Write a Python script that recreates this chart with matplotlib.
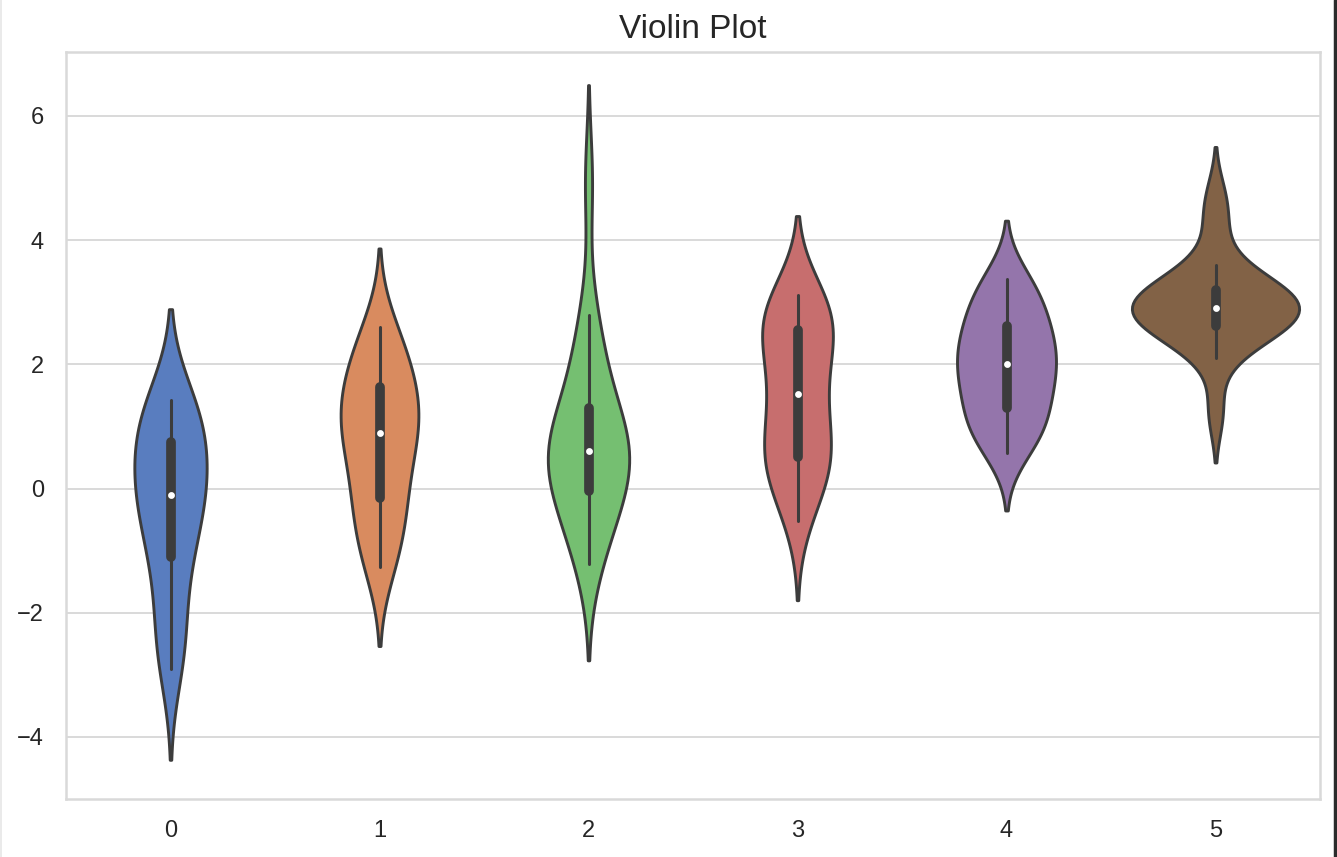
import matplotlib
matplotlib.use("Agg")
import matplotlib.pyplot as plt
from matplotlib.lines import Line2D
import seaborn as sns
import pandas as pd

group0 = [-2.9, -2.6, -2.3, -1.8, -1.2, -1.08, -0.75, -0.45, -0.25, -0.15,
          -0.05, 0.15, 0.35, 0.55, 0.7, 0.9, 1.1, 1.25, 1.38, 1.42]
group1 = [-1.27, -1.1, -0.75, -0.45, -0.25, -0.12, 0.2, 0.5, 0.7, 0.85,
          0.95, 1.1, 1.25, 1.4, 1.6, 1.72, 1.9, 2.15, 2.4, 2.6]
group2 = [-1.22, -0.9, -0.55, -0.3, -0.18, 0.0, 0.25, 0.42, 0.5, 0.56,
          0.64, 0.7, 0.8, 0.95, 1.2, 1.6, 1.9, 2.3, 2.79, 4.95]
group3 = [-0.53, -0.1, 0.15, 0.35, 0.45, 0.52, 0.7, 0.9, 1.2, 1.45,
          1.6, 1.9, 2.2, 2.35, 2.5, 2.7, 2.8, 2.9, 3.0, 3.12]
group4 = [0.58, 0.78, 0.92, 1.05, 1.2, 1.33, 1.55, 1.7, 1.82, 1.95,
          2.05, 2.15, 2.3, 2.45, 2.58, 2.72, 2.9, 3.1, 3.28, 3.38]
group5 = [1.22, 2.11, 2.4, 2.52, 2.58, 2.62, 2.72, 2.8, 2.86, 2.9,
          2.93, 3.0, 3.06, 3.12, 3.18, 3.28, 3.4, 3.6, 4.25, 4.7]

categories = ["0", "1", "2", "3", "4", "5"]
groups = [group0, group1, group2, group3, group4, group5]
title = "Violin Plot"

sns.set_theme(style="whitegrid")
plt.rcParams["font.family"] = ["Liberation Sans", "DejaVu Sans"]

df = pd.DataFrame({c: g for c, g in zip(categories, groups)})
long = df.melt(var_name="cat", value_name="val")

fig = plt.figure(figsize=(13.37, 8.57), dpi=100)
ax = fig.add_axes([66 / 1337, 1 - 799 / 857, (1320 - 66) / 1337, (799 - 52) / 857])

sns.violinplot(data=long, x="cat", y="val", hue="cat", palette="muted",
               legend=False, linewidth=2.1, common_norm=True,
               inner_kws=dict(box_width=7, whis_width=2.2, marker="o",
                              markersize=3.5),
               ax=ax)

ax.set_xlim(-0.5, 5.5)
ax.set_ylim(-5.0, 7.03)
ax.set_yticks([-4, -2, 0, 2, 4, 6])
ax.set_yticklabels(["\u22124", "\u22122", "0", "2", "4", "6"])
ax.set_xlabel("")
ax.set_ylabel("")
ax.set_title(title, fontsize=24, color="#262626", pad=10)
ax.tick_params(axis="x", labelsize=17, colors="#262626", length=0, pad=15)
ax.tick_params(axis="y", labelsize=17, colors="#262626", length=0, pad=16)
ax.grid(True, axis="y", color="#d9d9d9", linewidth=1.4)
ax.grid(False, axis="x")
for s in ax.spines.values():
    s.set_color("#d9d9d9")
    s.set_linewidth(1.8)

# screenshot frame edges
fig.add_artist(Line2D([1334.5 / 1337, 1334.5 / 1337], [0, 1], transform=fig.transFigure,
                      color="#2b2b2b", linewidth=2.5))
fig.add_artist(Line2D([1.0 / 1337, 1.0 / 1337], [0, 1], transform=fig.transFigure,
                      color="#e6e6e6", linewidth=1.2))

fig.savefig("out.png", dpi=100)
